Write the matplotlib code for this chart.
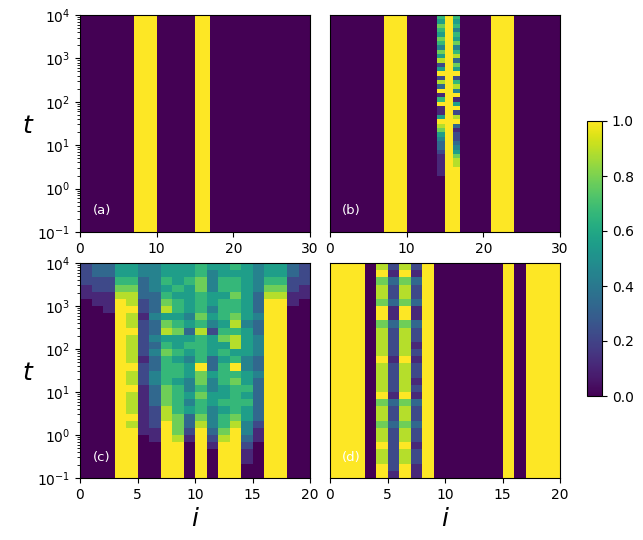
import numpy as np
import matplotlib
matplotlib.use("Agg")
import matplotlib.pyplot as plt

# ---------------- data ----------------
T_MIN, T_MAX = 1e-1, 1e4

# panel (a): 30 sites, stationary occupation
a_sites = 30
a_values = [0, 0, 0, 0, 0, 0, 0, 1, 1, 1, 0, 0, 0, 0, 0,
            1, 1, 0, 0, 0, 0, 0, 0, 0, 0, 0, 0, 0, 0, 0]

# panel (b): 30 sites, stationary except sites 14 and 16
b_sites = 30
b_values = [0, 0, 0, 0, 0, 0, 0, 1, 1, 1, 0, 0, 0, 0, 0,
            1, 0, 0, 0, 0, 0, 1, 1, 1, 0, 0, 0, 0, 0, 0]
# time-resolved values (digit/9), bottom (t=0.1) -> top (t=1e4), 10 rows / decade
b_site14 = ("0000000000000" "11111" "233" "45" "789" "5" "11"
            "961938295285746756756")
b_site16 = ("999999999999999" "88" "7" "54" "32" "21" "3" "98"
            "29519486295738647564656")

# panel (c): 20 sites, rows top (t=1e4) -> bottom (t=0.1), 6 rows / decade
c_rows = [
    "23355445556556545532",
    "23355445556455545532",
    "22266346567466546622",
    "12277345657466547721",
    "11188336556557538811",
    "01198237656566539910",
    "00199238656466539900",
    "00098145547567549900",
    "00098237656458439900",
    "00099238738266539900",
    "00098245556578549900",
    "00098236566558549900",
    "00098247656565549900",
    "00098136546356439900",
    "00099236659369439900",
    "00098246657566549900",
    "00098246547467539900",
    "00099137646456639900",
    "00098137657556539900",
    "00098137646566639900",
    "00098128656456539900",
    "00099128737467539900",
    "00098129738468429900",
    "00099119729379419900",
    "00099019819289319900",
    "00099009909199209900",
    "00099009909099109900",
    "00099009909099109900",
    "00099009909099009900",
    "00099009909099009900",
]

# panel (d): 20 sites, rows top (t=1e4) -> bottom (t=0.1), 6 rows / decade
d_rows = [
    "99908282900000090999",
    "99909191900000090999",
    "99907373900000090999",
    "99908282900000090999",
    "99908282900000090999",
    "99907373900000090999",
    "99909191900000090999",
    "99909191900000090999",
    "99907373900000090999",
    "99908282900000090999",
    "99908282900000090999",
    "99908281900000090999",
    "99908282900000090999",
    "99909191900000090999",
    "99908282900000090999",
    "99908282900000090999",
    "99908281900000090999",
    "99908282900000090999",
    "99909191900000090999",
    "99907373900000090999",
    "99908282900000090999",
    "99908282900000090999",
    "99907373900000090999",
    "99908282900000090999",
    "99908282900000090999",
    "99909291900000090999",
    "99908282900000090999",
    "99908282900000090999",
    "99909291900000090999",
    "99909191900000090999",
]

x_ticks_ab = [0, 10, 20, 30]
x_ticks_cd = [0, 5, 10, 15, 20]
cbar_ticks = [0.0, 0.2, 0.4, 0.6, 0.8, 1.0]
panel_labels = ["(a)", "(b)", "(c)", "(d)"]

# ---------------- build matrices ----------------
def digits_to_matrix(rows_top_to_bottom):
    m = np.array([[int(ch) for ch in r] for r in rows_top_to_bottom], float) / 9.0
    return m[::-1]  # bottom -> top

Za = np.array([a_values], float)
ta = np.array([T_MIN, T_MAX])

nb = len(b_site14)
tb = np.logspace(np.log10(T_MIN), np.log10(T_MAX), nb + 1)
Zb = np.tile(np.array(b_values, float), (nb, 1))
Zb[:, 14] = [int(ch) / 9.0 for ch in b_site14]
Zb[:, 16] = [int(ch) / 9.0 for ch in b_site16]

Zc = digits_to_matrix(c_rows)
Zd = digits_to_matrix(d_rows)
tc = np.logspace(np.log10(T_MIN), np.log10(T_MAX), Zc.shape[0] + 1)
td = np.logspace(np.log10(T_MIN), np.log10(T_MAX), Zd.shape[0] + 1)

# ---------------- figure ----------------
W, H = 643, 540
fig = plt.figure(figsize=(W / 100, H / 100), dpi=100)

def rect(x0, y0, x1, y1):
    return [x0 / W, 1 - y1 / H, (x1 - x0) / W, (y1 - y0) / H]

ax_a = fig.add_axes(rect(80, 15, 310, 232))
ax_b = fig.add_axes(rect(330, 15, 560, 232))
ax_c = fig.add_axes(rect(80, 263, 310, 478))
ax_d = fig.add_axes(rect(330, 263, 560, 478))
cax = fig.add_axes(rect(587, 121, 602, 396))

specs = [
    (ax_a, np.arange(a_sites + 1), ta, Za, x_ticks_ab),
    (ax_b, np.arange(b_sites + 1), tb, Zb, x_ticks_ab),
    (ax_c, np.arange(Zc.shape[1] + 1), tc, Zc, x_ticks_cd),
    (ax_d, np.arange(Zd.shape[1] + 1), td, Zd, x_ticks_cd),
]

mesh = None
for k, (ax, xe, te, Z, xt) in enumerate(specs):
    mesh = ax.pcolormesh(xe, te, Z, cmap="viridis", vmin=0, vmax=1,
                         shading="flat", rasterized=True)
    ax.set_yscale("log")
    ax.set_ylim(T_MIN, T_MAX)
    ax.set_xlim(xe[0], xe[-1])
    ax.set_xticks(xt)
    ax.tick_params(labelsize=10)
    ax.text(0.055 if k in (0, 2) else 0.05, 0.097, panel_labels[k],
            transform=ax.transAxes, color="white", fontsize=9.5,
            ha="left", va="center")

for ax in (ax_b, ax_d):
    ax.tick_params(axis="y", which="both", left=False, labelleft=False)

for ax in (ax_a, ax_c):
    ax.set_ylabel("$t$", rotation=0, fontsize=18, ha="center", va="center")
    ax.yaxis.set_label_coords(-0.226, 0.49)

for ax in (ax_c, ax_d):
    ax.set_xlabel("$i$", fontsize=18, ha="center", va="center")
    ax.xaxis.set_label_coords(0.5, -0.19)

cb = fig.colorbar(mesh, cax=cax, ticks=cbar_ticks)
cb.ax.tick_params(labelsize=10)
cb.ax.set_yticklabels([f"{v:.1f}" for v in cbar_ticks])

fig.savefig("out.png", dpi=100)
